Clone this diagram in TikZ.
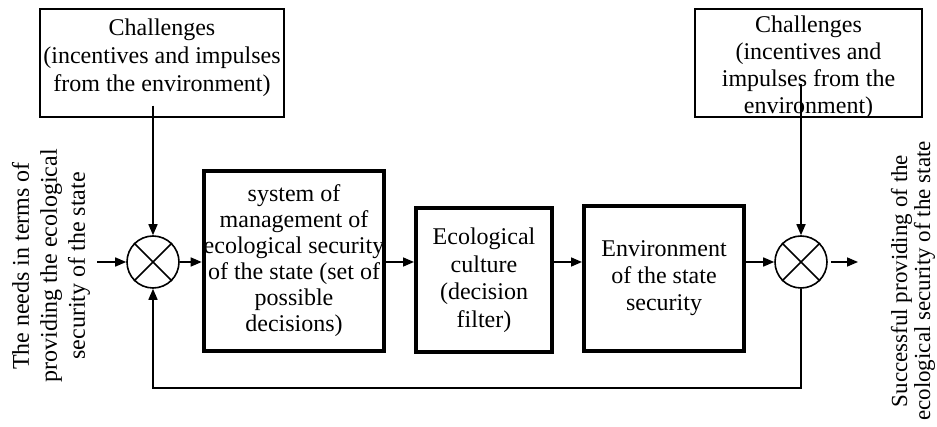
\documentclass[tikz,border=0pt]{standalone}
\usepackage{fontspec}
\setmainfont{Liberation Serif}
\usetikzlibrary{arrows.meta,calc}
\begin{document}
\begin{tikzpicture}[x=1pt,y=-1pt,
  every node/.style={font=\fontsize{24}{28}\selectfont, inner sep=0pt, align=center},
  thinbox/.style={draw, line width=1.5pt, rectangle},
  thickbox/.style={draw, line width=4pt, rectangle},
  mixer/.style={draw, line width=1.6pt, circle, minimum size=52pt},
  conn/.style={line width=1.6pt},
  arr/.style={conn, -{Triangle[length=11pt,width=9pt]}}
]
\useasboundingbox (0,0) rectangle (937,427);

\node[thinbox, minimum width=244pt, minimum height=108pt,
  label={[name=ch1t, yshift=5pt]center:{Challenges\\(incentives and impulses\\from the environment)}}] (ch1) at (162,63) {};
\node[thinbox, minimum width=227pt, minimum height=108pt,
  label={[name=ch2t, yshift=-4pt, font=\fontsize{24}{27}\selectfont]center:{Challenges\\(incentives and\\impulses from the\\environment)}}] (ch2) at (808.5,63) {};

\node[mixer] (c1) at (153,262) {};
\node[mixer] (c2) at (801,262) {};
\draw[conn] (c1.north east) -- (c1.south west) (c1.north west) -- (c1.south east);
\draw[conn] (c2.north east) -- (c2.south west) (c2.north west) -- (c2.south east);

\node[thickbox, minimum width=178pt, minimum height=180pt,
  font=\fontsize{24}{26}\selectfont] (sys) at (294,261)
  {system of\\management of\\ecological security\\of the state (set of\\possible\\decisions)};
\node[thickbox, minimum width=136pt, minimum height=144pt,
  font=\fontsize{24}{27.5}\selectfont] (eco) at (484,280)
  {Ecological\\culture\\(decision\\filter)};
\node[thickbox, minimum width=160pt, minimum height=145pt,
  font=\fontsize{24}{27}\selectfont] (env) at (664,278.5)
  {Environment\\of the state\\security};

\node[rotate=90] (inlbl) at (51,266)
  {The needs in terms of\\providing the ecological\\security of the state};
\node[rotate=90, font=\fontsize{23}{23}\selectfont] (outlbl) at (913,281)
  {Successful providing of the\\ecological security of the state};

\coordinate (in) at (97,262);
\coordinate (out) at (858,262);
\coordinate (fb) at (0,388);

\draw[arr] (in) -- (c1.west);
\draw[arr] (c1.east) -- (c1.east -| sys.west);
\draw[arr] (sys.east |- c1) -- (c1 -| eco.west);
\draw[arr] (eco.east |- c1) -- (c1 -| env.west);
\draw[arr] (env.east |- c2) -- (c2.west);
\draw[arr] ([xshift=3pt]c2.east) -- (out);
\draw[arr] ([yshift=12pt]ch1.south -| c1) -- (c1.north);
\draw[arr] ([yshift=34pt]ch2.south -| c2) -- (c2.north);
\draw[arr] (c2.south) -- (c2.south |- fb) -- (c1.south |- fb) -- (c1.south);
\end{tikzpicture}
\end{document}
